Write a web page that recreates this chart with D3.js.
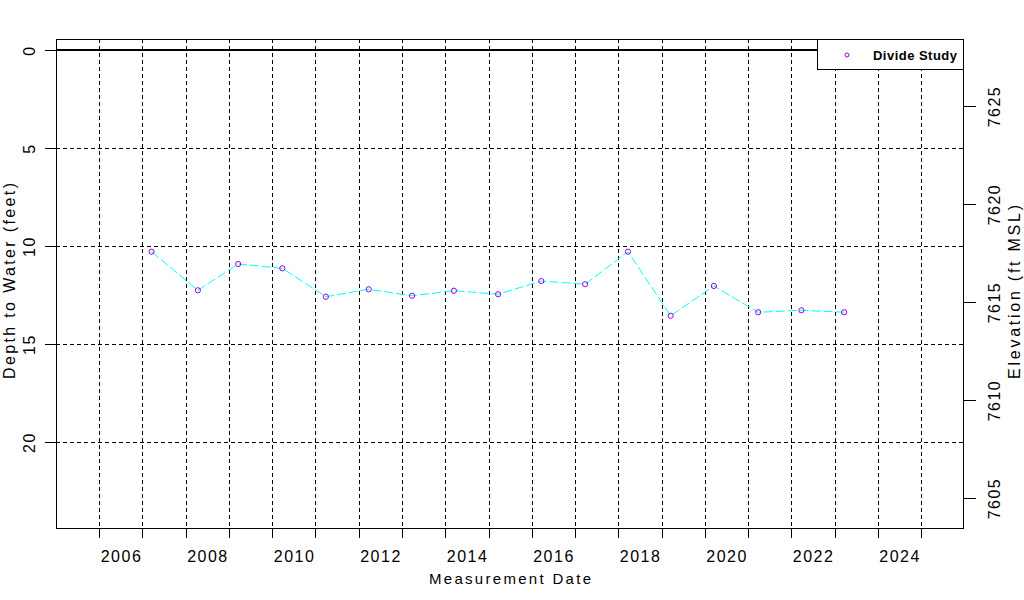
<!DOCTYPE html>
<html>
<head>
<meta charset="utf-8">
<script src="https://cdn.jsdelivr.net/npm/d3@7"></script>
<style>
    body { margin: 0; background: #fff; }
    svg { display: block; font-family: "Liberation Sans", Arial, sans-serif; }
    .grid line { stroke: #000; stroke-width: 1; stroke-dasharray: 4,3; shape-rendering: crispEdges; }
    .axis path, .axis line { stroke: #000; shape-rendering: crispEdges; }
    .axis text { font-size: 16px; letter-spacing: 1.5px; fill: #000; }
</style>
</head>
<body>
<div id="chart"></div>
<script>
// measurement dates and depth to water (feet)
var measureDates = ["2006-09-16", "2007-10-12", "2008-09-16", "2009-09-24", "2010-09-27",
    "2011-09-24", "2012-09-24", "2013-09-12", "2014-09-20", "2015-09-20", "2016-09-24",
    "2017-09-20", "2018-09-16", "2019-09-16", "2020-09-24", "2021-09-24", "2022-09-20"];
var depthValues = [10.29, 12.26, 10.92, 11.14, 12.59, 12.21, 12.54, 12.28, 12.46, 11.79,
    11.95, 10.29, 13.56, 12.04, 13.38, 13.28, 13.38];
var seriesName = "Divide Study";
var landSurface = 7627.86;   // ft MSL, elevation = landSurface - depth
var depthTicks = [0, 5, 10, 15, 20];
var elevTicks = [7605, 7610, 7615, 7620, 7625];
var labelYears = [2006, 2008, 2010, 2012, 2014, 2016, 2018, 2020, 2022, 2024];
var gridYears = d3.range(2005, 2025);

var width = 1024, height = 600;
var plotLeft = 56, plotRight = 964, plotTop = 39, plotBottom = 528;

var parse = d3.timeParse("%Y-%m-%d");
var data = measureDates.map(function (d, i) { return { date: parse(d), depth: depthValues[i] }; });

var x = d3.scaleTime()
    .domain([new Date(2004, 6, 1), new Date(2025, 5, 28)])
    .range([plotLeft, plotRight]);
var y = d3.scaleLinear().domain([-0.561, 24.388]).range([plotTop, plotBottom]);
var yElev = d3.scaleLinear()
    .domain([landSurface + 0.561, landSurface - 24.388])
    .range([plotTop, plotBottom]);

var svg = d3.select("#chart").append("svg")
    .attr("width", width)
    .attr("height", height);

var midYear = function (yr) { return new Date(yr, 6, 1); };

// grid
var grid = svg.append("g").attr("class", "grid");
grid.selectAll(".v").data(gridYears).enter().append("line")
    .attr("x1", function (d) { return Math.round(x(midYear(d))) + 0.5; })
    .attr("x2", function (d) { return Math.round(x(midYear(d))) + 0.5; })
    .attr("y1", plotTop).attr("y2", plotBottom);
grid.selectAll(".h").data(depthTicks.slice(1)).enter().append("line")
    .attr("x1", plotLeft).attr("x2", plotRight)
    .attr("y1", function (d) { return Math.round(y(d)) + 0.5; })
    .attr("y2", function (d) { return Math.round(y(d)) + 0.5; });

// zero line
svg.append("line")
    .attr("x1", plotLeft).attr("x2", plotRight)
    .attr("y1", y(0)).attr("y2", y(0))
    .attr("stroke", "#000").attr("stroke-width", 2);

// axes
var bottomTicks = svg.append("g").attr("class", "axis")
    .attr("transform", "translate(0," + plotBottom + ")")
    .call(d3.axisBottom(x).tickValues(gridYears.map(midYear)).tickSize(10).tickFormat(""));
bottomTicks.select(".domain").remove();

var bottomLabels = svg.append("g").attr("class", "axis")
    .attr("transform", "translate(0," + plotBottom + ")")
    .call(d3.axisBottom(x)
        .tickValues(labelYears.map(function (d) { return new Date(d, 0, 1); }))
        .tickSize(0).tickPadding(23)
        .tickFormat(d3.timeFormat("%Y")));
bottomLabels.select(".domain").remove();

var leftAxis = svg.append("g").attr("class", "axis")
    .attr("transform", "translate(" + plotLeft + ",0)")
    .call(d3.axisLeft(y).tickValues(depthTicks).tickSize(11));
leftAxis.select(".domain").remove();
leftAxis.selectAll("text")
    .attr("transform", "rotate(-90)")
    .attr("x", 0).attr("y", -21).attr("dy", 0)
    .attr("text-anchor", "middle");

var rightAxis = svg.append("g").attr("class", "axis")
    .attr("transform", "translate(" + plotRight + ",0)")
    .call(d3.axisRight(yElev).tickValues(elevTicks).tickSize(12).tickFormat(d3.format("d")));
rightAxis.select(".domain").remove();
rightAxis.selectAll("text")
    .attr("transform", "rotate(-90)")
    .attr("x", 0).attr("y", 36).attr("dy", 0)
    .attr("text-anchor", "middle");

// frame
svg.append("rect")
    .attr("x", plotLeft + 0.5).attr("y", plotTop + 0.5)
    .attr("width", plotRight - plotLeft - 1).attr("height", plotBottom - plotTop)
    .attr("fill", "none").attr("stroke", "#000")
    .attr("shape-rendering", "crispEdges");

// series
var line = d3.line()
    .x(function (d) { return x(d.date); })
    .y(function (d) { return y(d.depth); });

svg.append("path")
    .datum(data)
    .attr("d", line)
    .attr("fill", "none")
    .attr("stroke", "#00ffff")
    .attr("stroke-width", 1)
    .attr("stroke-dasharray", "9,3");

svg.selectAll(".pt").data(data).enter().append("circle")
    .attr("cx", function (d) { return x(d.date); })
    .attr("cy", function (d) { return y(d.depth); })
    .attr("r", 2.6)
    .attr("fill", "none")
    .attr("stroke", "#9900dd")
    .attr("stroke-width", 1);

// legend
var legend = svg.append("g");
legend.append("rect")
    .attr("x", 817.5).attr("y", plotTop + 0.5)
    .attr("width", plotRight - 817 - 1).attr("height", 30)
    .attr("fill", "#fff").attr("stroke", "#000")
    .attr("shape-rendering", "crispEdges");
legend.append("circle")
    .attr("cx", 847).attr("cy", 55).attr("r", 2)
    .attr("fill", "none").attr("stroke", "#9900dd").attr("stroke-width", 1);
legend.append("text")
    .attr("x", 873).attr("y", 60)
    .attr("textLength", 84).attr("lengthAdjust", "spacing")
    .style("font-size", "13px").style("font-weight", "bold")
    .text(seriesName);

// axis titles
svg.append("text")
    .attr("x", (plotLeft + plotRight) / 2).attr("y", 584)
    .attr("text-anchor", "middle")
    .attr("textLength", 162).attr("lengthAdjust", "spacing")
    .style("font-size", "15px")
    .text("Measurement Date");

svg.append("text")
    .attr("transform", "translate(15,281) rotate(-90)")
    .attr("text-anchor", "middle")
    .attr("textLength", 196).attr("lengthAdjust", "spacing")
    .style("font-size", "16px")
    .text("Depth to Water (feet)");

svg.append("text")
    .attr("transform", "translate(1020,292) rotate(-90)")
    .attr("text-anchor", "middle")
    .attr("textLength", 174).attr("lengthAdjust", "spacing")
    .style("font-size", "16px")
    .text("Elevation (ft MSL)");
</script>
</body>
</html>
